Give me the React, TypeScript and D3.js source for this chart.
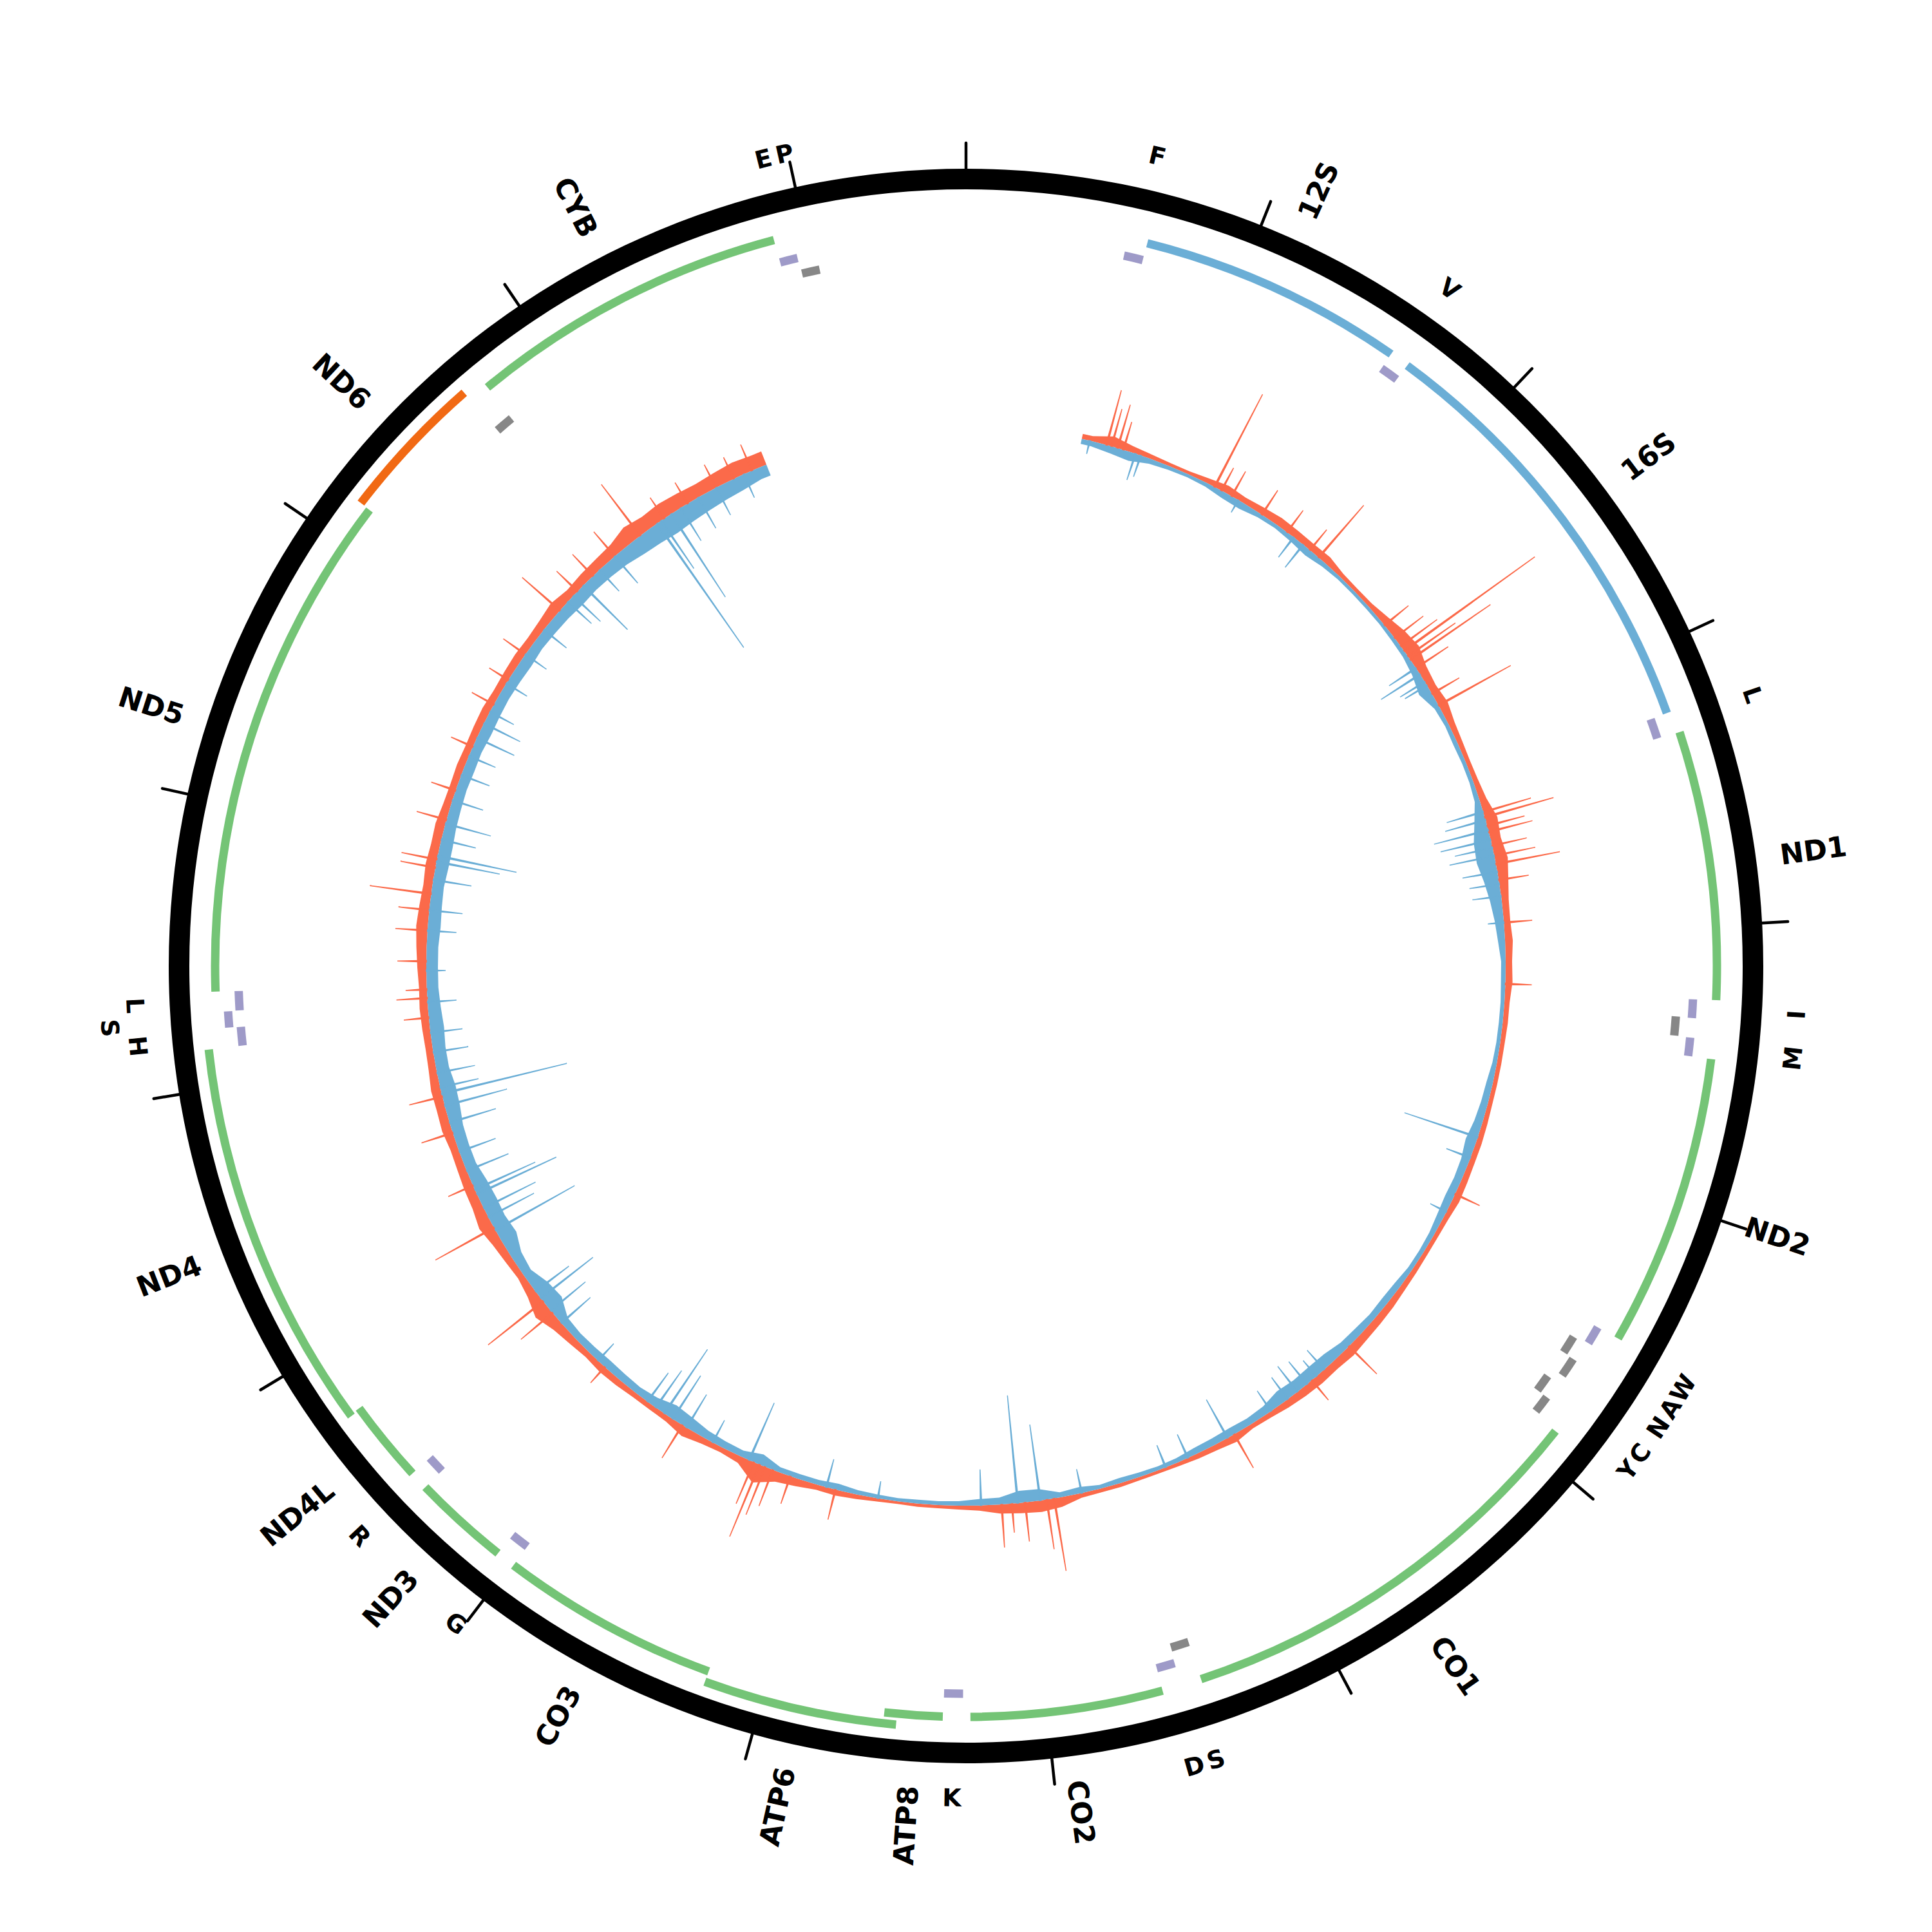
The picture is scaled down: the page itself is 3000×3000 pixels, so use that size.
import React from 'react';
import * as d3 from 'd3';

// ---------------- data ----------------
const GENOME_LENGTH = 16569;
const TICK_STEP = 1000;

// protein-coding genes
const geneNames = ['ND1', 'ND2', 'CO1', 'CO2', 'ATP8', 'ATP6', 'CO3', 'ND3', 'ND4L', 'ND4', 'ND5', 'ND6', 'CYB'];
const geneStarts = [3307, 4470, 5904, 7586, 8366, 8527, 9207, 10059, 10470, 10760, 12337, 14149, 14747];
const geneEnds = [4262, 5511, 7445, 8269, 8572, 9207, 9990, 10404, 10766, 12137, 14148, 14673, 15887];
const geneStrands = ['H', 'H', 'H', 'H', 'H', 'H', 'H', 'H', 'H', 'H', 'H', 'L', 'H'];
const geneLevels = [0, 0, 0, 0, 0, 1, 0, 0, 0, 1, 0, 1, 0];

// ribosomal RNAs
const rrnaNames = ['12S', '16S'];
const rrnaStarts = [648, 1671];
const rrnaEnds = [1601, 3229];

// transfer RNAs
const trnaNames = ['F', 'V', 'L1', 'I', 'Q', 'M', 'W', 'A', 'N', 'C', 'Y', 'S1', 'D', 'K', 'G', 'R', 'H', 'S2', 'L2', 'E', 'T', 'P'];
const trnaStarts = [577, 1602, 3230, 4263, 4329, 4402, 5512, 5587, 5657, 5761, 5826, 7446, 7518, 8295, 9991, 10405, 12138, 12207, 12266, 14674, 15888, 15956];
const trnaEnds = [647, 1670, 3304, 4331, 4400, 4469, 5579, 5655, 5729, 5826, 5891, 7514, 7585, 8364, 10058, 10469, 12206, 12265, 12336, 14742, 15953, 16023];
const trnaStrands = ['H', 'H', 'H', 'H', 'L', 'H', 'H', 'L', 'L', 'L', 'L', 'L', 'H', 'H', 'H', 'H', 'H', 'H', 'H', 'L', 'H', 'L'];
const trnaLevels = [0, 0, 0, 0, 0, 0, 0, 0, 1, 0, 1, 0, 0, 0, 0, 0, 0, 1, 0, 0, 0, 0];
const trnaLabels = ['F', 'V', 'L', 'I', '', 'M', 'W', 'A', 'N', 'C', 'Y', 'S', 'D', 'K', 'G', 'R', 'H', 'S', 'L', '', 'E', 'P'];
const trnaLabelLevels = [0, 0, 0, 0, 0, 0, 0, 0, 0, 0, 0, 0, 0, 0, 0, 0, 0, 1, 0, 0, 0, 0];

// coverage-like track: 100 bp bins starting at DATA_START
const DATA_START = 570;
const DATA_BIN = 100;
const forwardDepth = [
  8, 16, 10, 7, 5, 5, 8, 12, 9, 11,
  13, 12, 11, 12, 7, 6, 7, 12, 19, 23,
  15, 12, 15, 10, 8, 7, 8, 11, 19, 16,
  20, 15, 11, 10, 12, 10, 11, 8, 8, 7,
  7, 7, 7, 8, 9, 9, 10, 11, 8, 7,
  7, 8, 9, 11, 12, 13, 15, 13, 14, 13,
  11, 8, 7, 12, 9, 8, 6, 5, 5, 6,
  6, 7, 15, 18, 16, 14, 8, 6, 5, 5,
  4, 5, 7, 9, 8, 12, 16, 30, 11, 8,
  10, 15, 9, 8, 8, 10, 11, 9, 12, 16,
  25, 15, 10, 12, 15, 21, 16, 15, 13, 12,
  15, 14, 15, 12, 11, 12, 13, 12, 14, 16,
  18, 16, 14, 16, 14, 15, 12, 11, 12, 11,
  12, 13, 11, 12, 13, 12, 14, 18, 13, 15,
  16, 18, 26, 22, 24, 22, 20, 22, 24, 22,
];
const reverseDepth = [
  8, 11, 14, 8, 6, 5, 6, 10, 11, 7,
  6, 8, 11, 7, 5, 5, 5, 5, 6, 7,
  11, 18, 8, 6, 7, 6, 6, 8, 18, 27,
  29, 23, 18, 14, 11, 7, 7, 6, 6, 6,
  7, 10, 11, 13, 17, 13, 12, 13, 11, 8,
  7, 7, 10, 11, 10, 12, 13, 18, 19, 18,
  20, 13, 11, 12, 11, 10, 7, 6, 7, 8,
  6, 10, 8, 18, 19, 11, 10, 7, 6, 6,
  5, 6, 7, 10, 8, 8, 8, 17, 10, 11,
  13, 18, 21, 14, 11, 12, 13, 12, 11, 13,
  27, 24, 14, 17, 27, 24, 25, 23, 18, 18,
  19, 23, 24, 20, 20, 22, 20, 18, 18, 18,
  20, 19, 18, 20, 20, 18, 17, 16, 17, 16,
  18, 17, 16, 17, 18, 16, 17, 18, 20, 19,
  20, 22, 26, 28, 30, 28, 26, 24, 22, 18,
];
// isolated peaks [position bp, height]
const forwardPeaks = [
  [695, 88], [720, 60], [751, 70], [780, 45], [1262, 162], [1300, 40], [1357, 44], [1530, 45],
  [1680, 42], [1822, 41], [1878, 107], [2340, 48], [2420, 56], [2470, 70], [2498, 250], [2530, 90],
  [2551, 151], [2600, 60], [2748, 49], [2813, 128], [3380, 77], [3406, 111], [3450, 60], [3480, 70],
  [3550, 55], [3600, 65], [3641, 101], [3720, 47], [3930, 44], [4230, 41], [5293, 42], [6204, 61],
  [6450, 40], [6913, 60], [7852, 114], [7889, 78], [7995, 61], [8060, 45], [8110, 67], [8929, 48],
  [9159, 45], [9250, 60], [9290, 80], [9320, 121], [9350, 70], [9744, 60], [10218, 33], [10586, 64],
  [10659, 109], [11092, 104], [11322, 42], [11598, 51], [11782, 53], [12174, 39], [12270, 48],
  [12312, 33], [12450, 45], [12600, 50], [12700, 48], [12780, 96], [12910, 55], [12950, 56],
  [13150, 48], [13300, 40], [13530, 37], [13760, 39], [13900, 35], [14050, 42], [14323, 78],
  [14450, 45], [14557, 46], [14700, 50], [14860, 100], [15004, 39], [15140, 38], [15300, 40],
  [15396, 37], [15493, 44],
];
const reversePeaks = [
  [610, 21], [843, 43], [870, 35], [1395, 22], [1721, 39], [1780, 45], [2600, 50], [2637, 72],
  [2680, 45], [2700, 40], [3378, 59], [3420, 65], [3471, 87], [3520, 80], [3560, 60], [3600, 71],
  [3680, 55], [3740, 47], [3800, 45], [3930, 25], [4994, 120], [5100, 40], [5390, 28], [6370, 40],
  [6420, 32], [6480, 45], [6540, 50], [6600, 42], [6700, 38], [6950, 68], [7167, 40], [7285, 37],
  [7714, 38], [7920, 119], [8031, 168], [8211, 56], [8717, 27], [8975, 45], [9375, 97], [9573, 39],
  [9720, 60], [9800, 80], [9849, 120], [9900, 70], [9950, 55], [10264, 36], [10520, 60], [10600, 70],
  [10678, 103], [10720, 65], [11078, 141], [11150, 80], [11200, 90], [11276, 136], [11300, 103],
  [11400, 70], [11500, 60], [11650, 75], [11736, 100], [11796, 200], [11828, 61], [11900, 60],
  [12003, 55], [12100, 50], [12250, 45], [12404, 30], [12600, 45], [12700, 52], [12850, 60],
  [12940, 100], [12969, 125], [13050, 55], [13131, 73], [13250, 50], [13380, 47], [13480, 45],
  [13577, 64], [13656, 63], [13720, 42], [13880, 38], [14050, 40], [14200, 45], [14380, 50],
  [14420, 58], [14490, 97], [14600, 45], [14700, 55], [14962, 235], [14986, 90], [15045, 154],
  [15100, 60], [15200, 55], [15300, 48], [15450, 40],
];

// ---------------- styling ----------------
const COLORS = {
  ring: '#000000',
  geneH: '#74c476',
  geneL: '#f16913',
  rrna: '#6baed6',
  trnaH: '#9e9ac8',
  trnaL: '#878787',
  forward: '#fb6a4a',
  reverse: '#6baed6',
};
const R = {
  ringIn: 1206,
  ringOut: 1238,
  tickOut: 1278,
  gene: 1166,
  geneAlt: 1183,
  rrna: 1157,
  trnaH: 1130,
  trnaHAlt: 1148,
  trnaL: 1105,
  trnaLAlt: 1123,
  geneLabel: 1276,
  trnaLabel: 1292,
  trnaLabelAlt: 1333,
  dataBase: 838,
};
const STRIP = 13;
const FONT = "'DejaVu Sans', 'Liberation Sans', sans-serif";

export default function App() {
  const size = 3000;
  const angle = d3.scaleLinear().domain([0, GENOME_LENGTH]).range([0, 2 * Math.PI]);
  const deg = (bp: number) => (angle(bp) * 180) / Math.PI;
  const height = d3.scaleLinear().domain([0, 100]).range([0, 100]);
  const arc = d3.arc<any>();

  const strip = (s: number, e: number, r: number) =>
    arc({ innerRadius: r - STRIP / 2, outerRadius: r + STRIP / 2, startAngle: angle(s), endAngle: angle(e) }) as string;

  const makePoints = (vals: number[]) => {
    const pts = vals.map((v, i) => ({ bp: DATA_START + (i + 0.5) * DATA_BIN, v }));
    return [{ bp: DATA_START, v: vals[0] }, ...pts, { bp: DATA_START + vals.length * DATA_BIN, v: vals[vals.length - 1] }];
  };
  const fwdArea = d3
    .areaRadial<any>()
    .angle((d) => angle(d.bp))
    .innerRadius(R.dataBase)
    .outerRadius((d) => R.dataBase + height(Math.max(d.v, 4)))
    .curve(d3.curveLinear);
  const revArea = d3
    .areaRadial<any>()
    .angle((d) => angle(d.bp))
    .innerRadius((d) => R.dataBase - height(Math.max(d.v, 4)))
    .outerRadius(R.dataBase)
    .curve(d3.curveLinear);

  const spikePath = (bp: number, h: number, dir: number) => {
    const half = 4;
    const a = d3.pointRadial(angle(bp - half), R.dataBase);
    const b = d3.pointRadial(angle(bp), R.dataBase + dir * height(h));
    const c = d3.pointRadial(angle(bp + half), R.dataBase);
    return `M${a[0]},${a[1]}L${b[0]},${b[1]}L${c[0]},${c[1]}Z`;
  };

  const ticks = d3.range(0, GENOME_LENGTH, TICK_STEP);

  const radialLabel = (text: string, bp: number, key: string) => {
    const d = deg(bp);
    const flip = d >= 180;
    const t = `rotate(${d - 90}) translate(${R.geneLabel},0)${flip ? ' rotate(180)' : ''}`;
    return (
      <text
        key={key}
        transform={t}
        textAnchor={flip ? 'end' : 'start'}
        dominantBaseline="central"
        fontFamily={FONT}
        fontWeight="bold"
        fontSize={44}
        fill="#000"
      >
        {text}
      </text>
    );
  };

  const tangentialLabel = (text: string, bp: number, r: number, key: string) => {
    const d = deg(bp);
    const flip = d > 90 && d < 270;
    const t = `rotate(${d - 90}) translate(${r},0) rotate(${flip ? -90 : 90})`;
    return (
      <text
        key={key}
        transform={t}
        textAnchor="middle"
        dominantBaseline="central"
        fontFamily={FONT}
        fontWeight="bold"
        fontSize={38}
        fill="#000"
      >
        {text}
      </text>
    );
  };

  return (
    <svg
      width={size}
      height={size}
      viewBox={`0 0 ${size} ${size}`}
      style={{ position: 'absolute', left: 0, top: 0, background: '#fff' }}
    >
      <rect x={0} y={0} width={size} height={size} fill="#fff" />
      <g transform={`translate(${size / 2},${size / 2})`}>
        <path
          d={arc({ innerRadius: R.ringIn, outerRadius: R.ringOut, startAngle: 0, endAngle: 2 * Math.PI }) as string}
          fill={COLORS.ring}
        />
        {ticks.map((t) => {
          const p0 = d3.pointRadial(angle(t), R.ringOut - 4);
          const p1 = d3.pointRadial(angle(t), R.tickOut);
          return (
            <line key={`tick-${t}`} x1={p0[0]} y1={p0[1]} x2={p1[0]} y2={p1[1]} stroke="#000" strokeWidth={4.5} strokeLinecap="round" />
          );
        })}

        {rrnaNames.map((n, i) => (
          <path key={`rrna-${n}`} d={strip(rrnaStarts[i], rrnaEnds[i], R.rrna)} fill={COLORS.rrna} />
        ))}
        {geneNames.map((n, i) => (
          <path
            key={`gene-${n}`}
            d={strip(geneStarts[i], geneEnds[i], geneLevels[i] ? R.geneAlt : R.gene)}
            fill={geneStrands[i] === 'L' ? COLORS.geneL : COLORS.geneH}
          />
        ))}
        {trnaNames.map((n, i) => {
          const isH = trnaStrands[i] === 'H';
          const r = isH ? (trnaLevels[i] ? R.trnaHAlt : R.trnaH) : trnaLevels[i] ? R.trnaLAlt : R.trnaL;
          return <path key={`trna-${n}`} d={strip(trnaStarts[i], trnaEnds[i], r)} fill={isH ? COLORS.trnaH : COLORS.trnaL} />;
        })}

        <path d={fwdArea(makePoints(forwardDepth)) as string} fill={COLORS.forward} />
        <path d={revArea(makePoints(reverseDepth)) as string} fill={COLORS.reverse} />
        {forwardPeaks.map(([bp, h], i) => (
          <path key={`fp-${i}`} d={spikePath(bp, h, 1)} fill={COLORS.forward} stroke={COLORS.forward} strokeWidth={1.5} />
        ))}
        {reversePeaks.map(([bp, h], i) => (
          <path key={`rp-${i}`} d={spikePath(bp, h, -1)} fill={COLORS.reverse} stroke={COLORS.reverse} strokeWidth={1.5} />
        ))}

        {rrnaNames.map((n, i) => radialLabel(n, (rrnaStarts[i] + rrnaEnds[i]) / 2, `rl-${n}`))}
        {geneNames.map((n, i) => radialLabel(n, (geneStarts[i] + geneEnds[i]) / 2, `gl-${n}`))}
        {trnaNames.map((n, i) =>
          trnaLabels[i]
            ? tangentialLabel(
                trnaLabels[i],
                (trnaStarts[i] + trnaEnds[i]) / 2,
                trnaLabelLevels[i] ? R.trnaLabelAlt : R.trnaLabel,
                `tl-${n}`
              )
            : null
        )}
      </g>
    </svg>
  );
}
